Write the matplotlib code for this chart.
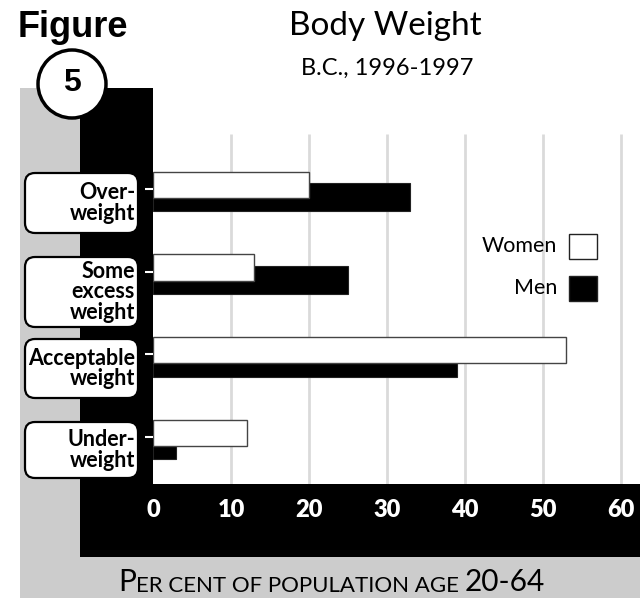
import matplotlib
matplotlib.use("Agg")
import numpy as np
import matplotlib.pyplot as plt
from matplotlib.patches import Rectangle, FancyBboxPatch, Circle

# data
categories = ["Over-\nweight", "Some\nexcess\nweight", "Acceptable\nweight", "Under-\nweight"]
women = [20, 13, 53, 12]
men = [33, 25, 39, 3]
xticks = [0, 10, 20, 30, 40, 50, 60]

W, H = 644, 598
plt.rcParams['font.family'] = ['Lato', 'DejaVu Sans']

fig = plt.figure(figsize=(W / 100, H / 100), dpi=100)


def inch(px, py):
    # pixel position (from top-left) -> inches for dpi_scale_trans
    return px / 100, (H - py) / 100


def rect(x0, y0, x1, y1, color, z):
    x, y = inch(x0, y1)
    fig.patches.append(Rectangle((x, y), (x1 - x0) / 100, (y1 - y0) / 100,
                                 facecolor=color, edgecolor='none',
                                 transform=fig.dpi_scale_trans, zorder=z))


" background panels "
rect(20, 88, 640, 598, '#cccccc', 0.2)
rect(80, 88, 153, 557, 'black', 0.3)
rect(80, 484, 640, 557, 'black', 0.3)

" main axes "
ax = fig.add_axes([153 / W, 1 - 484 / H, (640 - 153) / W, (484 - 88) / H])
ax.set_zorder(1)
ax.set_facecolor('white')
for s in ax.spines.values():
    s.set_visible(False)

idx = np.arange(len(categories))
ax.barh(idx + 0.10, men, height=0.34, color='black', edgecolor='#222222', lw=0.8, zorder=2)
ax.barh(idx - 0.05, women, height=0.32, color='white', edgecolor='#444444', lw=1.0, zorder=3)
ax.vlines(xticks[1:], -0.665, 3.6, color='#dadada', lw=2, zorder=0)

ax.set_xlim(0, 62.44)
ax.set_ylim(3.567, -1.22)
ax.set_yticks(idx)
ax.set_yticklabels([])
ax.tick_params(axis='y', colors='white', length=6, width=1.5, direction='out')
ax.set_xticks(xticks)
ax.set_xticklabels([str(t) for t in xticks], color='white', fontsize=17, fontweight='heavy')
ax.tick_params(axis='x', length=0, pad=11)

" category label boxes "
boxes = [(173, 233), (257, 327), (339, 398), (422, 478)]
for lab, (t, b) in zip(categories, boxes):
    x, y = inch(25, b)
    fig.patches.append(FancyBboxPatch((x + 0.1, y + 0.1), (138 - 25) / 100 - 0.2, (b - t) / 100 - 0.2,
                                      boxstyle='round,pad=0.1', facecolor='white',
                                      edgecolor='black', lw=1.6,
                                      transform=fig.dpi_scale_trans, zorder=2))
    tx, ty = inch(135, (t + b) / 2)
    fig.text(tx / (W / 100), ty / (H / 100), lab, ha='right', va='center',
             fontsize=15.5, fontweight='bold', linespacing=0.95, zorder=3)

" legend "
fig.text(557 / W, 1 - 246 / H, "Women", ha='right', va='center', fontsize=15.5, zorder=3)
fig.text(557 / W, 1 - 288 / H, "Men", ha='right', va='center', fontsize=15.5, zorder=3)
for top, col in [(234, 'white'), (276, 'black')]:
    x, y = inch(569, top + 25)
    fig.patches.append(Rectangle((x, y), 0.28, 0.25, facecolor=col, edgecolor='#222222',
                                 lw=1.0, transform=fig.dpi_scale_trans, zorder=3))

" titles "
fig.text(385 / W, 1 - 26 / H, "Body Weight", ha='center', va='center', fontsize=24)
fig.text(387 / W, 1 - 68 / H, "B.C., 1996-1997", ha='center', va='center', fontsize=17)
fig.text(18 / W, 1 - 37 / H, "Figure", ha='left', va='baseline', fontsize=26,
         fontweight='bold', family='Liberation Sans')
cx, cy = inch(72, 84)
fig.patches.append(Circle((cx, cy), 0.34, facecolor='white', edgecolor='black', lw=2.5,
                          transform=fig.dpi_scale_trans, zorder=4))
fig.text(72 / W, 1 - 83 / H, "5", ha='center', va='center', fontsize=23,
         fontweight='bold', family='Liberation Sans', zorder=5)

" x label in small caps "
t1 = fig.text(118 / W, 1 - 591 / H, "P", ha='left', va='baseline', fontsize=21.5)
t2 = ax.annotate("ER CENT OF POPULATION AGE ", xy=(1, 0), xycoords=t1,
                 ha='left', va='bottom', fontsize=16, annotation_clip=False)
ax.annotate("20-64", xy=(1, 0), xycoords=t2, ha='left', va='bottom', fontsize=21.5,
            annotation_clip=False)

fig.savefig("out.png", dpi=100)
